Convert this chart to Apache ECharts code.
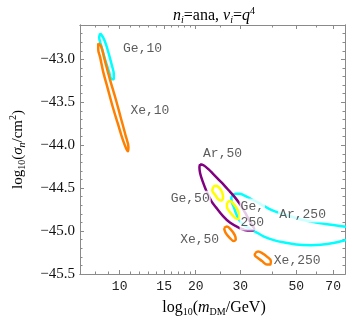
<!DOCTYPE html>
<html><head><meta charset="utf-8">
<script src="https://cdn.jsdelivr.net/npm/echarts@6/dist/echarts.min.js"></script>
<style>html,body{margin:0;padding:0;background:#fff}#wrap{position:relative;width:346px;height:318px}#c{width:346px;height:318px}
.xt{position:absolute;width:40px;text-align:center;font:13px "Liberation Mono",monospace;line-height:15px;color:#222;z-index:5}</style>
</head><body><div id="wrap"><div id="c"></div></div>
<script>
// Axis ranges (x is log10 of mass in GeV)
const LOGM_MIN = 0.843, LOGM_MAX = 1.892;
const SIG_MIN = -45.5, SIG_MAX = -42.6;
const xTickMasses = [10, 15, 20, 30, 50, 70];
const xMinorMasses = [7, 8, 9, 11, 12, 13, 14, 16, 17, 18, 19, 25, 40, 60];
const yTicks = [-45.5, -45.0, -44.5, -44.0, -43.5, -43.0];

// Contours: log10(m/GeV) and log10(sigma/cm^2)
const ge10_logm   = [0.9228,0.9344,0.9459,0.9575,0.9691,0.9768,0.9768,0.9691,0.9575,0.9421,0.9266,0.9189,0.9228];
const ge10_logsig = [-42.698,-42.744,-42.826,-42.942,-43.070,-43.174,-43.233,-43.233,-43.140,-43.000,-42.837,-42.744,-42.698];

const xe10_logm   = [0.9151,0.9266,0.9402,0.9614,0.9846,1.0039,1.0232,1.0347,1.0328,1.0270,1.0116,0.9923,0.9730,0.9537,0.9344,0.9228,0.9151,0.9151];
const xe10_logsig = [-42.814,-42.849,-43.000,-43.233,-43.465,-43.674,-43.884,-44.023,-44.070,-44.047,-43.930,-43.744,-43.558,-43.349,-43.140,-42.977,-42.884,-42.814];

const ar50_logm   = [1.3185,1.3320,1.3514,1.3707,1.3938,1.4131,1.4363,1.4556,1.4788,1.5019,1.5212,1.5328,1.5251,1.5058,1.4749,1.4363,1.4093,1.3822,1.3629,1.3436,1.3282,1.3185,1.3158,1.3185];
const ar50_logsig = [-44.221,-44.233,-44.279,-44.337,-44.407,-44.465,-44.541,-44.605,-44.698,-44.814,-44.919,-44.977,-44.994,-44.994,-44.965,-44.901,-44.826,-44.727,-44.651,-44.535,-44.419,-44.326,-44.256,-44.221];

const ge50_logm   = [1.3707,1.3822,1.3938,1.4054,1.4093,1.4035,1.3919,1.3784,1.3668,1.3707];
const ge50_logsig = [-44.483,-44.471,-44.494,-44.547,-44.605,-44.645,-44.634,-44.581,-44.529,-44.483];

const ge250y_logm   = [1.4247,1.4363,1.4517,1.4672,1.4749,1.4691,1.4556,1.4363,1.4247,1.4247];
const ge250y_logsig = [-44.674,-44.651,-44.686,-44.756,-44.820,-44.860,-44.843,-44.779,-44.721,-44.674];

const ar250_logm   = [1.9112,1.8958,1.8456,1.7954,1.7568,1.7181,1.6795,1.6409,1.6023,1.5714,1.5444,1.5174,1.4942,1.4749,1.4595,1.4479,1.4421,1.4440,1.4517,1.4633,1.4788,1.5019,1.5328,1.5714,1.6100,1.6525,1.6988,1.7568,1.7954,1.8456,1.8958,1.9112];
const ar250_logsig = [-44.956,-44.950,-44.930,-44.910,-44.890,-44.866,-44.831,-44.797,-44.756,-44.709,-44.663,-44.622,-44.587,-44.564,-44.564,-44.581,-44.616,-44.663,-44.721,-44.814,-44.895,-44.953,-45.000,-45.064,-45.105,-45.134,-45.157,-45.165,-45.160,-45.140,-45.105,-45.093];

const xe50_logm   = [1.4131,1.4247,1.4402,1.4556,1.4595,1.4517,1.4363,1.4189,1.4131];
const xe50_logsig = [-44.965,-44.948,-44.983,-45.047,-45.099,-45.116,-45.081,-45.017,-44.965];

const xe250_logm   = [1.5367,1.5483,1.5637,1.5830,1.5985,1.5965,1.5830,1.5637,1.5444,1.5347,1.5367];
const xe250_logsig = [-45.256,-45.238,-45.256,-45.297,-45.349,-45.390,-45.390,-45.349,-45.308,-45.279,-45.256];

// Curve annotations
const labelTexts = ['Ge,10','Xe,10','Ar,50','Ge,50','Ge,\n250','Ar,250','Xe,50','Xe,250'];
const labelLogm  = [1.0907,1.1197,1.4073,1.2792,1.5251,1.7239,1.3166,1.7027];
const labelLogsig= [-42.876,-43.599,-44.101,-44.624,-44.808,-44.808,-45.099,-45.345];

const CYAN='#00FFFF', ORANGE='#FF8000', PURPLE='#800080', YELLOW='#FFFF00';
const FRAME='#8a8a8a';

function zip(a,b){return a.map((v,i)=>[v,b[i]]);}
function curve(xs, ys, color, z){
  return {type:'line', data:zip(xs,ys), showSymbol:false, symbol:'none', smooth:0.35,
    lineStyle:{color:color,width:2.5}, itemStyle:{color:color}, clip:true, z:z, silent:true};
}
const xMajor = xTickMasses.map(m=>Math.log10(m));
const xMinor = xMinorMasses.map(m=>Math.log10(m));
const yMinor = [];
for(let k=-454;k<=-426;k++){ if(k%5!==0) yMinor.push(k/10); }

const serif='Liberation Serif', mono='Liberation Mono';
const chart = echarts.init(document.getElementById('c'), null, {renderer:'canvas'});
function xAx(pos, ticks, len){
  return {type:'value', position:pos, min:LOGM_MIN, max:LOGM_MAX,
    axisLine:{show:true, onZero:false, lineStyle:{color:FRAME,width:1}},
    axisTick:{show:true, inside:true, length:len, customValues:ticks, lineStyle:{color:FRAME}},
    axisLabel:{show:false},
    splitLine:{show:false}};
}
function yAx(pos, ticks, len, labels){
  return {type:'value', position:pos, min:SIG_MIN, max:SIG_MAX,
    axisLine:{show:true, onZero:false, lineStyle:{color:FRAME,width:1}},
    axisTick:{show:true, inside:true, length:len, customValues:ticks, lineStyle:{color:FRAME}},
    axisLabel:{show:labels, customValues:yTicks, margin:5, fontFamily:serif, fontSize:15, color:'#111',
      formatter:v=>'\u2212'+Math.abs(v).toFixed(1)},
    splitLine:{show:false}};
}
const xs = [xAx('bottom', xMajor, 4), xAx('bottom', xMinor, 2.5), xAx('top', xMajor, 4), xAx('top', xMinor, 2.5)];
const ys = [yAx('left', yTicks, 4, true), yAx('left', yMinor, 2.5, false), yAx('right', yTicks, 4, false), yAx('right', yMinor, 2.5, false)];
ys[0].name = '{rm|log}{sub|10}{rm|(}{it|σ}{subit|n}{rm|/cm}{sup|2}{rm|)}';
ys[0].nameLocation='middle'; ys[0].nameGap=52; ys[0].nameRotate=90;
ys[0].nameTextStyle={fontFamily:serif, fontSize:15, color:'#000', rich:{
  rm:{fontFamily:serif,fontSize:15,color:'#000'},
  it:{fontFamily:serif,fontSize:15,fontStyle:'italic',color:'#000'},
  sub:{fontFamily:serif,fontSize:10,color:'#000',padding:[8,0,0,0]},
  subit:{fontFamily:serif,fontSize:10,fontStyle:'italic',color:'#000',padding:[8,0,0,0]},
  sup:{fontFamily:serif,fontSize:10,color:'#000',padding:[0,0,10,0]}}};

const titleRich = {
  rm:{fontFamily:serif,fontSize:16,color:'#000'},
  it:{fontFamily:serif,fontSize:16,fontStyle:'italic',color:'#000'},
  sub:{fontFamily:serif,fontSize:10,color:'#000',padding:[8,0,0,0]},
  subit:{fontFamily:serif,fontSize:10,fontStyle:'italic',color:'#000',padding:[8,0,0,0]},
  sup:{fontFamily:serif,fontSize:10,color:'#000',padding:[0,0,10,0]}};

const option = {
  animation:false,
  backgroundColor:'#fff',
  title:[
    {text:'{it|n}{subit|i}{rm|=ana, }{it|ν}{subit|i}{rm|=}{it|q}{sup|4}', left:209, top:1, textAlign:'center',
      textStyle:{fontFamily:serif,fontSize:16,fontWeight:'normal',color:'#000', rich:titleRich}},
    {text:'{rm|log}{sub|10}{rm|(}{it|m}{sub|DM}{rm|/GeV)}', left:209, top:294, textAlign:'center',
      textStyle:{fontFamily:serif,fontSize:16,fontWeight:'normal',color:'#000', rich:titleRich}}
  ],
  grid:{left:73, right:1, top:25, bottom:44, containLabel:false},
  xAxis: xs,
  yAxis: ys,
  series:[
    curve(ge10_logm, ge10_logsig, CYAN, 2),
    curve(xe10_logm, xe10_logsig, ORANGE, 3),
    curve(ar250_logm, ar250_logsig, CYAN, 2),
    curve(ar50_logm, ar50_logsig, PURPLE, 3),
    curve(ge50_logm, ge50_logsig, YELLOW, 4),
    curve(ge250y_logm, ge250y_logsig, YELLOW, 4),
    curve(xe50_logm, xe50_logsig, ORANGE, 4),
    curve(xe250_logm, xe250_logsig, ORANGE, 4),
    {type:'scatter', z:10, silent:true, symbolSize:1, itemStyle:{color:'rgba(0,0,0,0)'},
      data: labelTexts.map((t,i)=>({name:t, value:[labelLogm[i], labelLogsig[i]]})),
      label:{show:true, position:'inside', formatter:p=>p.name, fontFamily:mono, fontSize:13, lineHeight:16,
        color:'#333', backgroundColor:'#fff', padding:[0,1]}}
  ]
};
chart.setOption(option);

// x tick labels: positions taken from the chart's own x scale
const axisBottomPx = chart.convertToPixel({yAxisIndex:0}, SIG_MIN);
const wrap = document.getElementById('wrap');
xTickMasses.forEach(m => {
  const px = chart.convertToPixel({xAxisIndex:0}, Math.log10(m));
  const d = document.createElement('div');
  d.className = 'xt';
  d.textContent = String(m);
  d.style.left = (px - 20) + 'px';
  d.style.top = (axisBottomPx + 5) + 'px';
  wrap.appendChild(d);
});
</script>
</body></html>
